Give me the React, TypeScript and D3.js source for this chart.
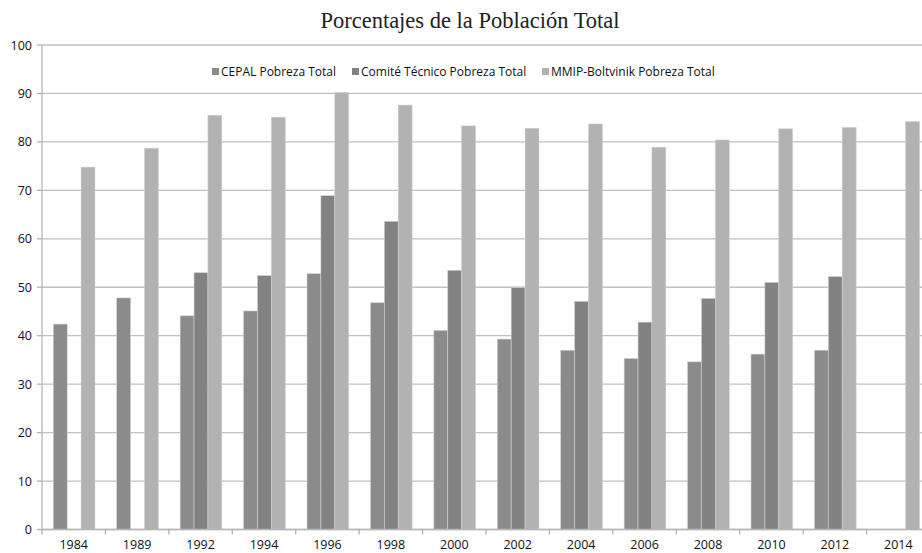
import React from "react";
import * as d3 from "d3";

const years = ["1984","1989","1992","1994","1996","1998","2000","2002","2004","2006","2008","2010","2012","2014"];
const cepal: (number|null)[] = [42.4,47.8,44.1,45.1,52.8,46.8,41.1,39.3,37.0,35.3,34.6,36.2,37.0,null];
const comite: (number|null)[] = [null,null,53.0,52.4,68.9,63.6,53.5,49.9,47.1,42.8,47.7,51.0,52.2,null];
const mmip: (number|null)[] = [74.8,78.7,85.5,85.1,90.2,87.6,83.3,82.8,83.7,78.9,80.4,82.7,83.0,84.2];
const seriesNames = ["CEPAL Pobreza Total","Comité Técnico Pobreza Total","MMIP-Boltvinik Pobreza Total"];
const seriesColors = ["#8b8b8b","#828282","#b2b2b2"];
const yTicks = [0,10,20,30,40,50,60,70,80,90,100];

const W = 922, H = 553;
const left = 42, right = 930, top = 45, bottom = 529.5;
const font = "'Open Sans', 'Noto Sans', sans-serif";

export default function App() {
  const series = [cepal, comite, mmip];
  const x = d3.scaleBand<string>().domain(years).range([left, right]).paddingInner(0).paddingOuter(0);
  const bw = x.bandwidth();
  const xs = d3.scaleBand<number>().domain([0,1,2]).range([bw*0.178, bw*0.835]).paddingInner(0);
  const y = d3.scaleLinear().domain([0,100]).range([bottom, top]);
  const legendX = [212, 352, 542];
  return (
    <svg width={W} height={H} style={{position:"absolute", left:0, top:0, background:"#fff"}}>
      <text x={470} y={28} textAnchor="middle" fontFamily="'Liberation Serif', 'DejaVu Serif', serif" fontSize={22.5} fill="#222">Porcentajes de la Población Total</text>
      {yTicks.map(t => (
        <g key={t}>
          <line x1={left} x2={W} y1={y(t)} y2={y(t)} stroke="#c0c0c0" strokeWidth={1.3} />
          <line x1={left-5} x2={left} y1={y(t)} y2={y(t)} stroke="#b0b0b0" strokeWidth={1.3} />
          <text x={32} y={y(t)+4.5} textAnchor="end" fontFamily={font} fontSize={12.5} fill="#111">{t}</text>
        </g>
      ))}
      {series.map((s, si) => s.map((v, i) => v == null ? null : (
        <rect key={`${si}-${i}`} x={(x(years[i]) as number) + (xs(si) as number)} width={xs.bandwidth()}
          y={y(v)} height={y(0)-y(v)} fill={seriesColors[si]} stroke="#d0d0d0" strokeWidth={0.6} />
      )))}
      <line x1={left} x2={left} y1={top} y2={bottom} stroke="#b8b8b8" strokeWidth={1.3} />
      <line x1={left} x2={W} y1={bottom} y2={bottom} stroke="#b8b8b8" strokeWidth={1.3} />
      {years.map((yr, i) => (
        <g key={yr}>
          <line x1={x(yr) as number} x2={x(yr) as number} y1={bottom} y2={bottom+5} stroke="#b0b0b0" strokeWidth={1.3} />
          <text x={(x(yr) as number) + bw/2} y={549} textAnchor="middle" fontFamily={font} fontSize={12.5} fill="#111">{yr}</text>
        </g>
      ))}
      {seriesNames.map((n, i) => (
        <g key={n}>
          <rect x={legendX[i]} y={68} width={7} height={7} fill={seriesColors[i]} />
          <text x={legendX[i]+9} y={76} fontFamily={font} fontSize={12} fill="#111">{n}</text>
        </g>
      ))}
    </svg>
  );
}
